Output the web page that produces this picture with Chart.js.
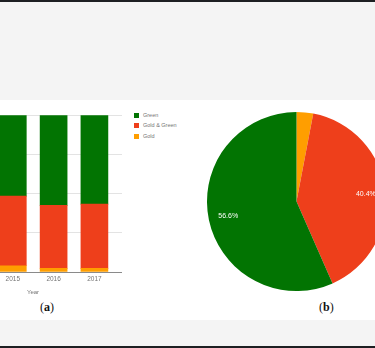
<!DOCTYPE html>
<html>
<head>
<meta charset="utf-8">
<title>Green / Gold shares</title>
<script src="https://cdn.jsdelivr.net/npm/chart.js@4.4.0/dist/chart.umd.min.js"></script>
<style>
  body {
    margin: 0; width: 375px; height: 348px; overflow: hidden;
    position: relative; background: #f4f4f4;
    font-family: "Liberation Sans", Arial, sans-serif;
  }
  .strip { position: absolute; left: 0; width: 375px; background: #1d1f22; }
  #panel { position: absolute; left: 0; top: 100px; width: 375px; height: 220px; background: #fff; }
  #bar { position: absolute; left: -56px; top: 110px; }
  #pie { position: absolute; left: 207px; top: 112px; }
  #legend { position: absolute; left: 134px; top: 112.5px; font-size: 5.5px; color: #757575; }
  #legend div { position: relative; height: 10.7px; padding-left: 9px; line-height: 5.5px; }
  #legend span { position: absolute; left: 0; top: 0; width: 5px; height: 5px; }
  .cap { position: absolute; font-family: "Liberation Serif", serif; font-size: 12px; color: #111; }
  .cap b { font-weight: bold; }
</style>
</head>
<body>
<div class="strip" style="top:0;height:2px"></div>
<div id="panel"></div>
<div class="strip" style="top:346px;height:2px"></div>

<canvas id="bar" width="178" height="188"></canvas>
<div id="legend"></div>
<canvas id="pie" width="179" height="179"></canvas>

<div class="cap" style="left:40px;top:300px">(<b>a</b>)</div>
<div class="cap" style="left:319px;top:300px">(<b>b</b>)</div>

<script>
/*- DATA
-----------------------------------------------------------------------*/
const years = ['2015', '2016', '2017'];
// share of each class per year, in percent
const greenShare     = [51.6, 57.5, 56.7];
const goldGreenShare = [44.4, 40.2, 41.0];
const goldShare      = [4.0, 2.3, 2.3];

// overall share
const pieLabels = ['Gold', 'Gold & Green', 'Green'];
const pieValues = [3.0, 40.4, 56.6];

const GREEN = '#027402';
const RED = '#ee3f1b';
const GOLD = '#ff9e00';

/*- STACKED BARS
-----------------------------------------------------------------------*/
const toPoints = arr => arr.map((v, i) => ({ x: i, y: v }));

const barChart = new Chart(document.getElementById('bar'), {
  type: 'bar',
  data: {
    datasets: [
      { label: 'Gold', data: toPoints(goldShare), backgroundColor: GOLD },
      { label: 'Gold & Green', data: toPoints(goldGreenShare), backgroundColor: RED },
      { label: 'Green', data: toPoints(greenShare), backgroundColor: GREEN }
    ]
  },
  options: {
    responsive: false,
    animation: false,
    barThickness: 27,
    layout: { padding: { top: 5.3, left: 0, right: 0, bottom: 0 } },
    plugins: { legend: { display: false }, tooltip: { enabled: false } },
    scales: {
      x: {
        type: 'linear',
        stacked: true,
        offset: false,
        min: -1.686,
        max: 2.676,
        grid: { display: false, drawTicks: false },
        border: { color: '#8a8a8a', width: 1 },
        ticks: {
          stepSize: 1,
          includeBounds: false,
          padding: 3,
          autoSkip: false,
          maxRotation: 0,
          color: '#757575',
          font: { family: 'Liberation Sans', size: 6.5 },
          callback: v => Number.isInteger(v) ? (years[v] || '') : ''
        },
        title: {
          display: true,
          text: 'Year',
          color: '#757575',
          font: { family: 'Liberation Sans', size: 6 },
          padding: { top: 3, bottom: 2 }
        }
      },
      y: {
        stacked: true,
        min: 0,
        max: 100,
        afterFit: s => { s.width = 0; },
        grid: { color: '#e3e3e3', drawTicks: false },
        border: { display: false },
        ticks: { stepSize: 25, display: false }
      }
    }
  }
});

// legend built from the datasets, top entry = top of the stack
document.getElementById('legend').innerHTML = barChart.data.datasets
  .slice().reverse()
  .map(ds => `<div><span style="background:${ds.backgroundColor}"></span>${ds.label}</div>`)
  .join('');

/*- PIE
-----------------------------------------------------------------------*/
// percentage labels inside the bigger slices
const sliceLabels = {
  id: 'sliceLabels',
  afterDatasetsDraw(chart) {
    const ctx = chart.ctx;
    const meta = chart.getDatasetMeta(0);
    ctx.save();
    ctx.fillStyle = '#fff';
    ctx.font = '7px "Liberation Sans"';
    ctx.textAlign = 'center';
    ctx.textBaseline = 'middle';
    meta.data.forEach((arc, i) => {
      const v = chart.data.datasets[0].data[i];
      if (v < 5) return;
      const p = arc.getProps(['x', 'y', 'startAngle', 'endAngle', 'outerRadius'], true);
      const mid = (p.startAngle + p.endAngle) / 2;
      const r = p.outerRadius * 0.78;
      ctx.fillText(v.toFixed(1) + '%', p.x + Math.cos(mid) * r, p.y + Math.sin(mid) * r);
    });
    ctx.restore();
  }
};

new Chart(document.getElementById('pie'), {
  type: 'pie',
  data: {
    labels: pieLabels,
    datasets: [{
      data: pieValues,
      backgroundColor: [GOLD, RED, GREEN],
      borderWidth: 0
    }]
  },
  options: {
    responsive: false,
    animation: false,
    plugins: { legend: { display: false }, tooltip: { enabled: false } }
  },
  plugins: [sliceLabels]
});
</script>
</body>
</html>
